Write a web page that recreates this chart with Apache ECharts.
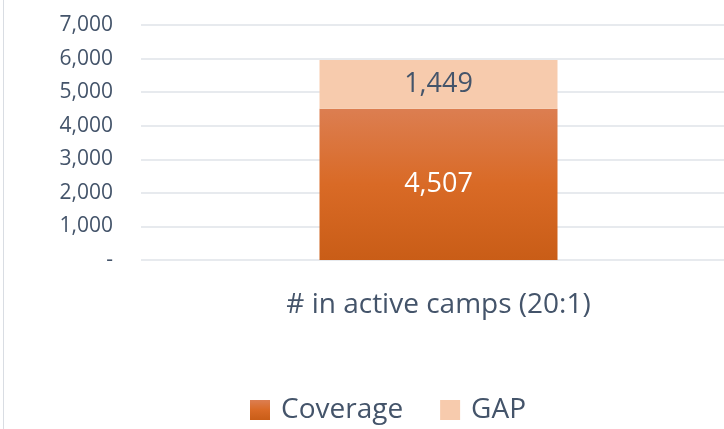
<!DOCTYPE html>
<html>
<head>
<meta charset="utf-8">
<script src="https://cdn.jsdelivr.net/npm/echarts@6/dist/echarts.min.js"></script>
<style>
  html, body { margin: 0; padding: 0; background: #fff; overflow: hidden; }
  #wrap { position: relative; width: 724px; height: 429px; overflow: hidden; }
  #chart { position: absolute; left: 0; top: 0; width: 736px; height: 429px; }
  #edge { position: absolute; left: 3px; top: 0; width: 1px; height: 429px; background: #d9dde3; }
</style>
</head>
<body>
<div id="wrap">
  <div id="chart"></div>
  <div id="edge"></div>
</div>
<script>
// data
const categories = ['# in active camps (20:1)'];
const coverage = [4507];
const gap = [1449];
const seriesNames = ['Coverage', 'GAP'];

const textColor = '#44546a';
const fontFamily = '"Open Sans", "Noto Sans", sans-serif';

const myChart = echarts.init(document.getElementById('chart'));

const fmt = v => v.toLocaleString('en-US');

myChart.setOption({
  animation: false,
  textStyle: { fontFamily: fontFamily },
  grid: { left: 141, top: 25, right: 0, height: 235 },
  legend: {
    bottom: 0,
    left: 245,
    itemWidth: 20,
    itemHeight: 20,
    itemGap: 37,
    icon: 'rect',
    textStyle: { color: textColor, fontSize: 28, fontFamily: fontFamily, padding: [0, 0, 0, 6] },
    data: seriesNames
  },
  xAxis: {
    type: 'category',
    data: categories,
    axisLine: { show: false },
    axisTick: { show: false },
    axisLabel: { color: textColor, fontSize: 28, margin: 31 }
  },
  yAxis: {
    type: 'value',
    min: 0,
    max: 7000,
    interval: 1000,
    axisLabel: {
      color: textColor,
      fontSize: 21,
      margin: 28,
      formatter: v => v === 0 ? '-' : fmt(v)
    },
    splitLine: { lineStyle: { color: '#dfe3e8', width: 1.5 } }
  },
  series: [
    {
      name: seriesNames[0],
      type: 'bar',
      stack: 'total',
      barWidth: '40%',
      data: coverage,
      itemStyle: {
        color: new echarts.graphic.LinearGradient(0, 0, 0, 1, [
          { offset: 0, color: '#dc7e51' },
          { offset: 0.5, color: '#d96a26' },
          { offset: 1, color: '#c95d17' }
        ])
      },
      label: {
        show: true,
        position: 'inside',
        color: '#ffffff',
        fontSize: 27,
        formatter: p => fmt(p.value)
      }
    },
    {
      name: seriesNames[1],
      type: 'bar',
      stack: 'total',
      barWidth: '40%',
      data: gap,
      itemStyle: { color: '#f7cbad' },
      label: {
        show: true,
        position: 'inside',
        color: textColor,
        fontSize: 27,
        formatter: p => fmt(p.value)
      }
    }
  ]
});
</script>
</body>
</html>
